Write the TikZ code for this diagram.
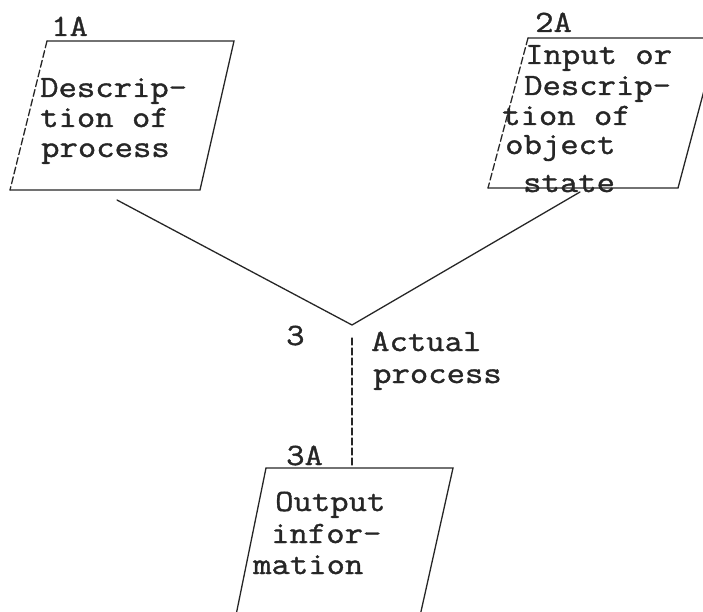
\documentclass[tikz,border=0pt]{standalone}
\usepackage{fontspec}
\newfontfamily\tw{Latin Modern Mono}[FakeBold=1.2,FakeStretch=1.15]
\definecolor{ink}{HTML}{262626}
\tikzset{
  txt/.style={anchor=base west, inner sep=0pt, font=\tw\fontsize{31}{30}\selectfont, text=ink},
  edgeline/.style={line width=1.3pt, draw=ink, line cap=round},
  brokenline/.style={edgeline, dash pattern=on 7pt off 3pt},
}
\begin{document}
\begin{tikzpicture}[x=1pt,y=-1pt]
\useasboundingbox (0,0) rectangle (703,612);
\begin{scope}
\clip (0,0) rectangle (703,612);
% box 1A
\coordinate (b1tl) at (47,41);
\coordinate (b1tr) at (234,41);
\coordinate (b1br) at (200,190);
\coordinate (b1bl) at (10,190);
\draw[edgeline] (b1bl) -- (b1br) -- (b1tr) -- (b1tl);
\draw[brokenline] (b1tl) -- (b1bl);
% box 2A
\coordinate (b2tl) at (528,38);
\coordinate (b2tr) at (718,38);
\coordinate (b2br) at (678,188);
\coordinate (b2bl) at (488,188);
\draw[edgeline] (b2bl) -- (b2br) -- (b2tr) -- (b2tl);
\draw[brokenline] (b2tl) -- (b2bl);
% box 3A
\coordinate (b3tl) at (266,468);
\coordinate (b3tr) at (453,468);
\coordinate (b3br) at (418,625);
\coordinate (b3bl) at (234,625);
\draw[edgeline] (b3bl) -- (b3tl) -- (b3tr) -- (b3br);
\end{scope}
% connectors
\coordinate (c1) at (117,200);
\coordinate (c2) at (580,192);
\coordinate (j) at (352,325);
\coordinate (v1) at (352,338);
\coordinate (v2) at (352,466);
\draw[edgeline] (c1) -- (j) -- (c2);
\draw[brokenline] (v1) -- (v2);
% texts box 1
\node[txt] (l1A) at (51,36) {1A};
\node[txt] (t1a) at (40,97) {Descrip-};
\node[txt] (t1b) at (40,127) {tion of};
\node[txt] (t1c) at (41,157) {process};
% texts box 2
\node[txt] (l2A) at (535,32) {2A};
\node[txt] (t2a) at (525,64) {Input or};
\node[txt] (t2b) at (524,95) {Descrip-};
\node[txt] (t2c) at (502,125) {tion of};
\node[txt] (t2d) at (505,154) {object};
\node[txt] (t2e) at (523,192) {state};
% process label
\node[txt] (l3) at (286,345) {3};
\node[txt] (t3a) at (371,351) {Actual};
\node[txt] (t3b) at (373,383) {process};
% texts box 3
\node[txt] (l3A) at (286,465) {3A};
\node[txt] (t4a) at (275,511) {Output};
\node[txt] (t4b) at (271,543) {infor-};
\node[txt] (t4c) at (253,574) {mation};
\end{tikzpicture}
\end{document}
